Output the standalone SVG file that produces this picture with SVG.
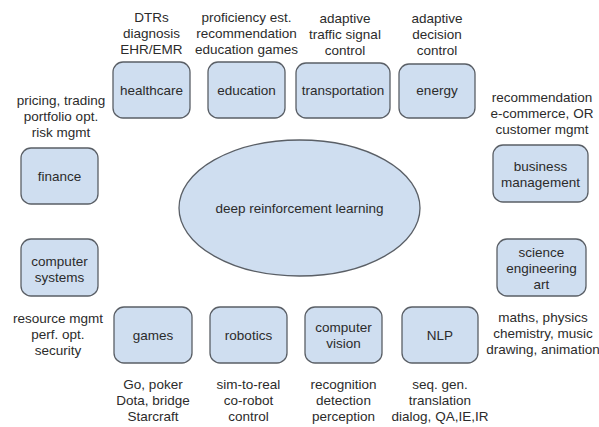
<svg xmlns="http://www.w3.org/2000/svg" width="599" height="427" viewBox="0 0 599 427">
<style>
.b{fill:#cfdef0;stroke:#5a5f66;stroke-width:1.3}
text{font-family:"Liberation Sans",Arial,sans-serif;font-size:13.5px;fill:#2b2b2b;text-anchor:middle}
</style>
<rect width="599" height="427" fill="#fff"/>
<g id="connectors"></g>
<g id="center"><ellipse class="b" cx="299.5" cy="208" rx="120.5" ry="68"/><text x="299.5" y="213">deep reinforcement learning</text></g>
<g id="healthcare"><rect class="b" x="113" y="62" width="77" height="56" rx="10"/><text x="151.5" y="95">healthcare</text>
<text x="151.5" y="22">DTRs</text><text x="151.5" y="38">diagnosis</text><text x="151.5" y="54">EHR/EMR</text></g>
<g id="education"><rect class="b" x="208" y="62" width="77" height="56" rx="10"/><text x="246.5" y="95">education</text>
<text x="246.5" y="22">proficiency est.</text><text x="246.5" y="38">recommendation</text><text x="246.5" y="54">education games</text></g>
<g id="transportation"><rect class="b" x="296" y="63" width="94" height="55" rx="10"/><text x="343" y="95">transportation</text>
<text x="345" y="23">adaptive</text><text x="345" y="39">traffic signal</text><text x="345" y="55">control</text></g>
<g id="energy"><rect class="b" x="399" y="64" width="76" height="54" rx="10"/><text x="437" y="95">energy</text>
<text x="437" y="23">adaptive</text><text x="437" y="39">decision</text><text x="437" y="55">control</text></g>
<g id="finance"><rect class="b" x="21" y="148" width="77" height="56" rx="10"/><text x="59.5" y="181">finance</text>
<text x="61" y="105">pricing, trading</text><text x="61" y="121">portfolio opt.</text><text x="61" y="137">risk mgmt</text></g>
<g id="business"><rect class="b" x="493" y="145" width="95" height="57" rx="10"/><text x="540.5" y="171">business</text><text x="540.5" y="187">management</text>
<text x="542" y="102">recommendation</text><text x="542" y="118">e-commerce, OR</text><text x="542" y="134">customer mgmt</text></g>
<g id="computer-systems"><rect class="b" x="21" y="239" width="77" height="57" rx="10"/><text x="59.5" y="266">computer</text><text x="59.5" y="282">systems</text>
<text x="58" y="323">resource mgmt</text><text x="58" y="339">perf. opt.</text><text x="58" y="355">security</text></g>
<g id="science"><rect class="b" x="497" y="239" width="89" height="57" rx="10"/><text x="541.5" y="257">science</text><text x="541.5" y="273">engineering</text><text x="541.5" y="289">art</text>
<text x="543" y="322">maths, physics</text><text x="543" y="338">chemistry, music</text><text x="543" y="354">drawing, animation</text></g>
<g id="games"><rect class="b" x="114" y="307" width="78" height="56" rx="10"/><text x="153" y="340">games</text>
<text x="153" y="389">Go, poker</text><text x="153" y="405">Dota, bridge</text><text x="153" y="421">Starcraft</text></g>
<g id="robotics"><rect class="b" x="210" y="307" width="77" height="56" rx="10"/><text x="248.5" y="340">robotics</text>
<text x="248.5" y="389">sim-to-real</text><text x="248.5" y="405">co-robot</text><text x="248.5" y="421">control</text></g>
<g id="computer-vision"><rect class="b" x="305" y="307" width="77" height="56" rx="10"/><text x="343.5" y="332">computer</text><text x="343.5" y="348">vision</text>
<text x="343.5" y="389">recognition</text><text x="343.5" y="405">detection</text><text x="343.5" y="421">perception</text></g>
<g id="nlp"><rect class="b" x="402" y="307" width="76" height="56" rx="10"/><text x="440" y="340">NLP</text>
<text x="440" y="389">seq. gen.</text><text x="440" y="405">translation</text><text x="440" y="421">dialog, QA,IE,IR</text></g>
</svg>
